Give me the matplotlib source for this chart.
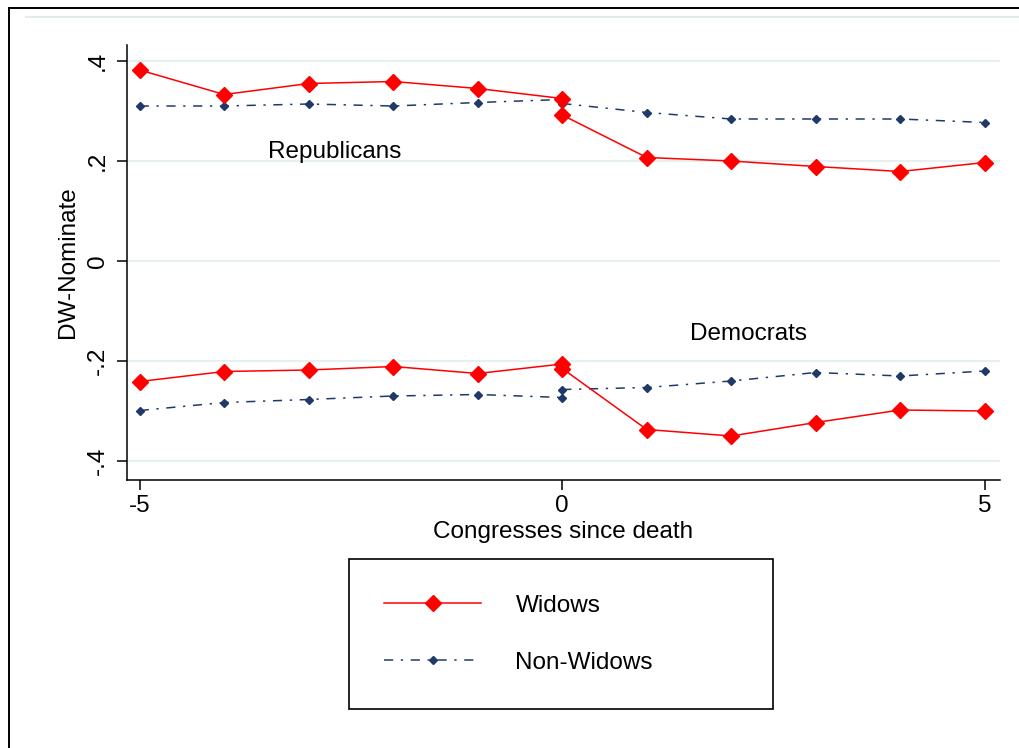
"""
Widows vs non-widows DW-Nominate scores around the husband's death
"""

import matplotlib
matplotlib.use("Agg")
import matplotlib.pyplot as plt
from matplotlib.lines import Line2D

plt.rcParams["font.family"] = ["Liberation Sans", "DejaVu Sans"]

# congresses relative to death (pre and post segments share 0)
pre_x = [-5, -4, -3, -2, -1, 0]
post_x = [0, 1, 2, 3, 4, 5]

rep_widow_pre = [0.382, 0.333, 0.355, 0.359, 0.345, 0.325]
rep_widow_post = [0.292, 0.207, 0.200, 0.189, 0.179, 0.197]
rep_other_pre = [0.310, 0.310, 0.314, 0.310, 0.317, 0.323]
rep_other_post = [0.315, 0.297, 0.284, 0.284, 0.284, 0.277]

dem_widow_pre = [-0.241, -0.221, -0.218, -0.211, -0.225, -0.206]
dem_widow_post = [-0.215, -0.337, -0.350, -0.323, -0.298, -0.300]
dem_other_pre = [-0.299, -0.283, -0.277, -0.270, -0.267, -0.273]
dem_other_post = [-0.257, -0.253, -0.240, -0.223, -0.230, -0.220]

x_ticks = [-5, 0, 5]
x_ticklabels = ["-5", "0", "5"]
y_ticks = [-0.4, -0.2, 0, 0.2, 0.4]
y_ticklabels = ["-.4", "-.2", "0", ".2", ".4"]

RED = "#ff0000"
NAVY = "#1f3a68"
DASHDOT = (0, (6, 5, 1.5, 5))
FS = 17.5


def plot_widow(ax, x, y, label=None):
    ax.plot(x, y, color=RED, lw=1.1, marker="D", ms=8.3, label=label, zorder=3)


def plot_other(ax, x, y, label=None):
    ax.plot(x, y, color=NAVY, lw=1.1, ls=DASHDOT, marker="D", ms=4.5,
            label=label, zorder=2)


def main():
    fig = plt.figure(figsize=(10.2, 7.48), dpi=100)
    ax = fig.add_axes([127 / 1020, 1 - 480 / 748, 873 / 1020, 435 / 748])

    plot_widow(ax, pre_x, rep_widow_pre, "Widows")
    plot_widow(ax, post_x, rep_widow_post)
    plot_other(ax, pre_x, rep_other_pre, "Non-Widows")
    plot_other(ax, post_x, rep_other_post)
    plot_widow(ax, pre_x, dem_widow_pre)
    plot_widow(ax, post_x, dem_widow_post)
    plot_other(ax, pre_x, dem_other_pre)
    plot_other(ax, post_x, dem_other_post)

    ax.text(-2.69, 0.218, "Republicans", fontsize=FS, ha="center", va="center")
    ax.text(2.2, -0.146, "Democrats", fontsize=FS, ha="center", va="center")

    ax.set_xlim(-5.15, 5.18)
    ax.set_ylim(-0.438, 0.432)
    ax.set_xticks(x_ticks)
    ax.set_xticklabels(x_ticklabels)
    ax.set_yticks(y_ticks)
    ax.set_yticklabels(y_ticklabels, rotation=90, va="center")
    ax.tick_params(labelsize=FS, length=7, width=1.1, direction="out")
    ax.tick_params(axis="y", pad=6)
    ax.grid(axis="y", color="#e8eff0", lw=1.6)
    ax.set_axisbelow(True)
    for side in ["top", "right"]:
        ax.spines[side].set_visible(False)
    for side in ["left", "bottom"]:
        ax.spines[side].set_linewidth(1.1)

    ax.set_xlabel("Congresses since death", fontsize=FS, labelpad=3)
    ax.set_ylabel("DW-Nominate", fontsize=FS, labelpad=6)

    leg = fig.legend(loc="lower left",
                     bbox_to_anchor=(349 / 1020, 1 - 709 / 748, 424 / 1020, 0.1),
                     mode="expand", borderaxespad=0, fontsize=FS, numpoints=1,
                     handlelength=4.0, handletextpad=1.4, borderpad=1.45,
                     labelspacing=1.45, fancybox=False, edgecolor="black",
                     framealpha=1)
    leg.get_frame().set_linewidth(1.2)

    # outer graph frame (cropped)
    fig.add_artist(Line2D([9 / 1020, 1], [1 - 8 / 748, 1 - 8 / 748],
                          color="black", lw=1.4))
    fig.add_artist(Line2D([9 / 1020, 9 / 1020], [0, 1 - 8 / 748],
                          color="black", lw=1.4))
    fig.add_artist(Line2D([26 / 1020, 1], [1 - 17 / 748, 1 - 17 / 748],
                          color="#e4ebed", lw=1.5))

    fig.savefig("out.png", dpi=100)
    plt.close(fig)


if __name__ == "__main__":
    main()
